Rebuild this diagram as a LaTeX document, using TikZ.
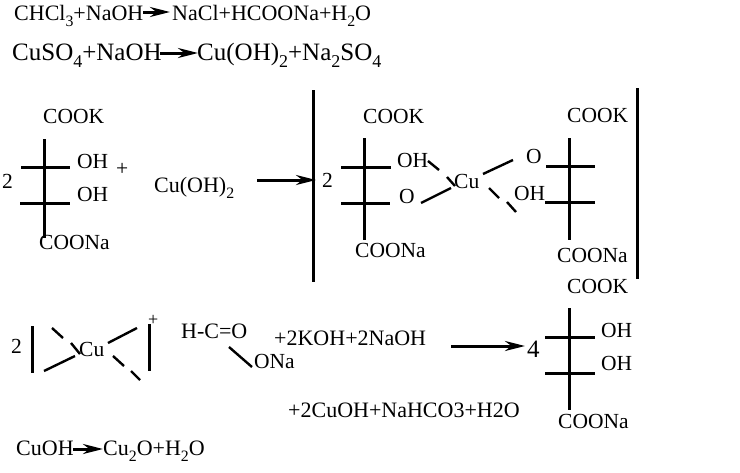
\documentclass[tikz,border=0pt]{standalone}
\usepackage{fontspec}
\setmainfont{Liberation Serif}
\usetikzlibrary{arrows.meta}
\newcommand{\lowsub}[1]{\raisebox{-.3em}{\scalebox{.72}{#1}}}
\tikzset{
	chem/.style={inner sep=0pt, anchor=base west, font=\fontsize{21.5}{21.5}\selectfont},
	chemsmall/.style={chem, font=\fontsize{22}{22}\selectfont},
	chembig/.style={chem, font=\fontsize{25}{25}\selectfont},
	bond/.style={black, line width=3pt},
	slant/.style={black, line width=2.4pt},
	bar/.style={black, line width=3pt},
	react/.style={black, line width=3pt, -{Stealth[length=20pt, width=10pt]}}
}
\begin{document}
\begin{tikzpicture}[x=1pt, y=-1pt]
	\useasboundingbox (0, 0) rectangle (740, 472);

	% top equations
	\node[chemsmall] (eqa) at (14, 20) {CHCl\lowsub{3}+NaOH};
	\node[chemsmall] (eqb) at (172, 20) {NaCl+HCOONa+H\lowsub{2}O};
	\draw[react] (143, 12) -- (170, 12);
	\node[chembig] (eqc) at (12, 60) {CuSO\lowsub{4}+NaOH};
	\node[chembig] (eqd) at (197, 60) {Cu(OH)\lowsub{2}+Na\lowsub{2}SO\lowsub{4}};
	\draw[react] (160, 53) -- (198, 53);

	% skeletons
	\foreach \x/\y/\yb in { 44/139/238, 364/138/240, 569/138/240, 569/308/410 }
		\draw[bond] (\x, \y) -- (\x, \yb);
	\foreach \xa/\xb/\y in { 21/70/167, 20/70/203, 341/391/167, 341/390/203, 546/595/166, 545/595/202, 545/595/337, 545/595/373 }
		\draw[bond] (\xa, \y) -- (\xb, \y);

	% first row
	\node[chem] (twoa) at (2, 188) {2};
	\node[chem] (cooka) at (43, 123) {COOK};
	\node[chem] (oha) at (77, 168) {OH};
	\node[chem] (ohb) at (77, 201) {OH};
	\node[chem] (coona) at (39, 249) {COONa};
	\node[chem] (plusa) at (116, 175) {+};
	\node[chemsmall] (cuoh) at (154, 192) {Cu(OH)\lowsub{2}};
	\draw[react] (257, 180) -- (316, 180);
	\draw[bar] (313, 90) -- (313, 282);
	\draw[bar] (637, 88) -- (637, 279);
	\node[chem] (twob) at (322, 187) {2};
	\node[chem] (cookb) at (363, 123) {COOK};
	\node[chem] (ohc) at (397, 167) {OH};
	\node[chem] (oa) at (399, 203) {O};
	\node[chem] (coonb) at (355, 257) {COONa};
	\node[chem] (cua) at (454, 188) {Cu};
	\node[chem] (ob) at (526, 163) {O};
	\node[chem] (ohd) at (514, 200) {OH};
	\node[chem] (cookc) at (567, 122) {COOK};
	\node[chem] (coonc) at (557, 262) {COONa};
	\foreach \xa/\ya/\xb/\yb in { 428/161/439/170, 447/177/455/186, 421/203/451/188, 483/174/513/160, 489/188/499/198, 507/202/516/212 }
		\draw[slant] (\xa, \ya) -- (\xb, \yb);

	% second row
	\node[chem] (twoc) at (11, 353) {2};
	\draw[bar] (32, 326) -- (32, 373);
	\node[chem] (cub) at (79, 356) {Cu};
	\draw[bar] (149, 324) -- (149, 371);
	\node[chem, font=\fontsize{18}{18}\selectfont] (plusb) at (148, 325) {+};
	\foreach \xa/\ya/\xb/\yb in { 52/328/63/338, 71/343/80/354, 44/371/75/356, 108/343/137/328, 113/356/124/366, 131/371/140/380, 229/347/252/367 }
		\draw[slant] (\xa, \ya) -- (\xb, \yb);
	\node[chemsmall] (formyl) at (181, 338) {H-C=O};
	\node[chem] (ona) at (254, 368) {ONa};
	\node[chemsmall] (koh) at (274, 345) {+2KOH+2NaOH};
	\draw[react] (451, 346) -- (525, 346);
	\node[chembig] (four) at (527, 357) {4};
	\node[chem] (cookd) at (567, 293) {COOK};
	\node[chem] (ohe) at (601, 337) {OH};
	\node[chem] (ohf) at (601, 370) {OH};
	\node[chem] (coond) at (558, 428) {COONa};
	\node[chemsmall] (prod) at (288, 417) {+2CuOH+NaHCO3+H2O};

	% last line
	\node[chemsmall] (eqe) at (16, 455) {CuOH};
	\node[chemsmall] (eqf) at (103, 455) {Cu\lowsub{2}O+H\lowsub{2}O};
	\draw[react] (73, 449) -- (103, 449);
\end{tikzpicture}
\end{document}
